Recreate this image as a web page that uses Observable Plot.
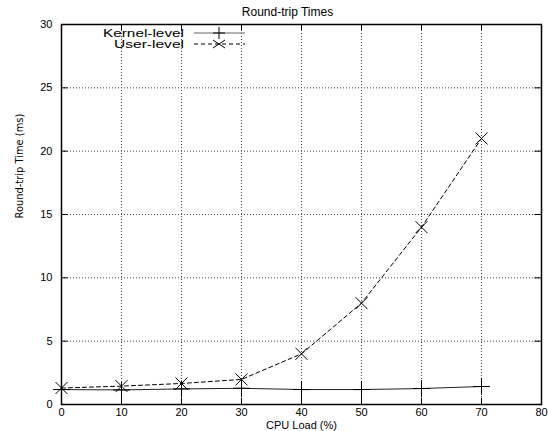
<!DOCTYPE html>
<html><head><meta charset="utf-8">
<script src="https://cdn.jsdelivr.net/npm/d3@7"></script>
<script src="https://cdn.jsdelivr.net/npm/@observablehq/plot@0.6"></script>
<style>body{margin:0;background:#fff}</style>
</head><body><div id="chart"></div>
<script>
const loads = [0, 10, 20, 30, 40, 50, 60, 70];
const kernel = [1.18, 1.15, 1.23, 1.28, 1.18, 1.18, 1.26, 1.42];
const user = [1.3, 1.45, 1.66, 1.98, 4.0, 8.0, 14.0, 21.0];
const xTicks = [0, 10, 20, 30, 40, 50, 60, 70, 80];
const yTicks = [0, 5, 10, 15, 20, 25, 30];
const title = "Round-trip Times";
const xLabel = "CPU Load (%)";
const yLabel = "Round-trip Time (ms)";
const seriesNames = ["Kernel-level", "User-level"];

const kData = loads.map((x, i) => ({x, y: kernel[i]}));
const uData = loads.map((x, i) => ({x, y: user[i]}));
const font = "Liberation Sans, Arial, Helvetica, sans-serif";
const narrow = "Liberation Sans Narrow, Arial Narrow, DejaVu Sans Condensed, sans-serif";

const chart = Plot.plot({
  width: 548, height: 431,
  marginLeft: 61, marginRight: 7, marginTop: 24, marginBottom: 27,
  style: {fontFamily: font, fontSize: "11px", background: "#fff", color: "#000"},
  x: {domain: [0, 80], label: null},
  y: {domain: [0, 30], label: null},
  marks: [
    Plot.ruleX(xTicks.slice(1, -1), {stroke: "#444", strokeDasharray: "1,2", strokeWidth: 1}),
    Plot.ruleY(yTicks.slice(1, -1), {stroke: "#444", strokeDasharray: "1,2", strokeWidth: 1}),
    Plot.ruleX(xTicks, {x: d => d, y1: 0, y2: 0.5, stroke: "#000"}),
    Plot.ruleX(xTicks, {x: d => d, y1: 29.5, y2: 30, stroke: "#000"}),
    Plot.ruleY(yTicks, {y: d => d, x1: 0, x2: 1.1, stroke: "#000"}),
    Plot.ruleY(yTicks, {y: d => d, x1: 78.9, x2: 80, stroke: "#000"}),
    Plot.axisX(xTicks, {tickSize: 0, tickPadding: 4, fontSize: 11}),
    Plot.axisY(yTicks, {tickSize: 0, tickPadding: 9, fontSize: 11}),
    Plot.line(kData, {x: "x", y: "y", stroke: "#222", strokeWidth: 1}),
    Plot.dot(kData, {x: "x", y: "y", symbol: "plus", r: 5.5, stroke: "#000", strokeWidth: 1}),
    Plot.line(uData, {x: "x", y: "y", stroke: "#000", strokeWidth: 1, strokeDasharray: "4,3"}),
    Plot.dot(uData, {x: "x", y: "y", symbol: "times", r: 5.5, stroke: "#000", strokeWidth: 1}),
    Plot.frame({stroke: "#000", strokeWidth: 1.5}),
    Plot.text([title], {frameAnchor: "top", lineAnchor: "middle", dy: -12, dx: -14, text: d => d, fontSize: 12}),
    Plot.text([xLabel], {frameAnchor: "bottom", lineAnchor: "middle", dy: 21, text: d => d, fontSize: 11}),
    Plot.text([yLabel], {frameAnchor: "left", dx: -42, dy: 4, rotate: -90, text: d => d, fontSize: 11, fontFamily: narrow})
  ]
});

// legend
const svg = d3.select(chart);
const lg = svg.append("g").attr("font-family", font).attr("font-size", 10.5);
const rows = [
  {name: seriesNames[0], dash: null, sym: "plus", color: "#666", w: 81},
  {name: seriesNames[1], dash: "4,3", sym: "times", color: "#000", w: 70}
];
rows.forEach((r, i) => {
  const y = 33 + i * 11;
  lg.append("text").attr("x", 184).attr("y", y).attr("dy", "0.35em").attr("text-anchor", "end")
    .attr("textLength", r.w).attr("lengthAdjust", "spacingAndGlyphs").text(r.name);
  lg.append("line").attr("x1", 194).attr("x2", 245).attr("y1", y).attr("y2", y)
    .attr("stroke", r.color).attr("stroke-width", 1).attr("stroke-dasharray", r.dash);
  const s = 6;
  if (r.sym === "plus") {
    lg.append("path").attr("d", `M${219 - s},${y}H${219 + s}M219,${y - s}V${y + s}`).attr("stroke", "#000");
  } else {
    lg.append("path").attr("d", `M${219 - s},${y - 4}L${219 + s},${y + 4}M${219 - s},${y + 4}L${219 + s},${y - 4}`).attr("stroke", "#000");
  }
});
document.getElementById("chart").appendChild(chart);
</script></body></html>
